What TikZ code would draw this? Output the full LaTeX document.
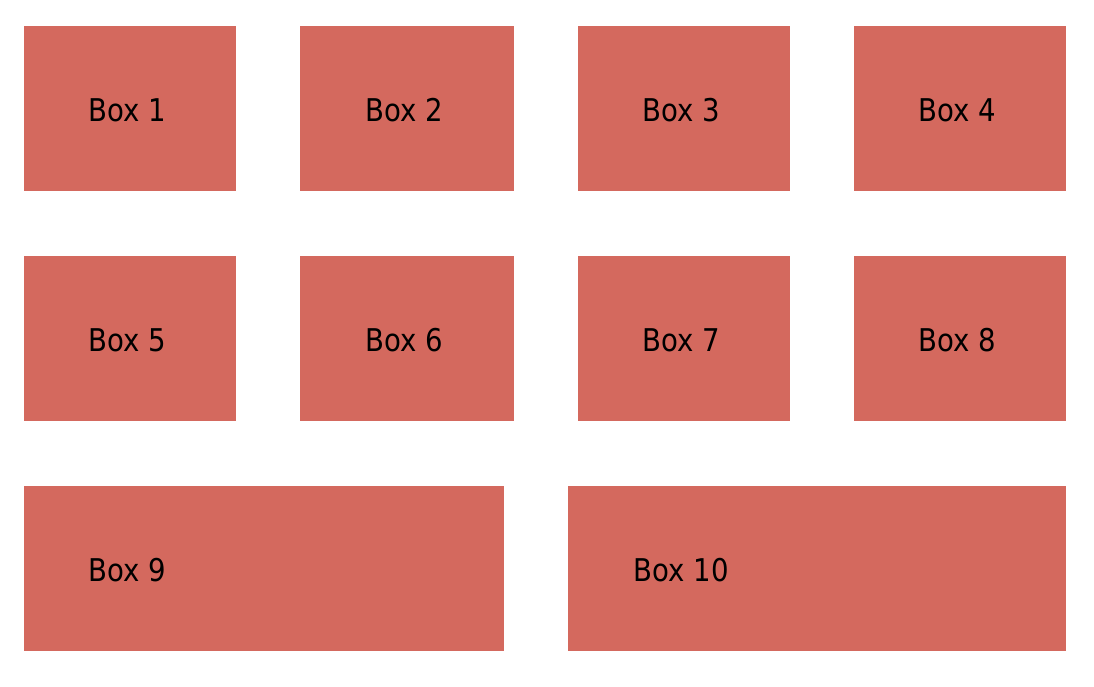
\documentclass[tikz,border=0pt]{standalone}
\usepackage{fontspec}
\setmainfont{DejaVu Sans}[FakeStretch=0.88]
\definecolor{boxred}{HTML}{D4695E}
\tikzset{
  cell/.style={fill=boxred, draw=none},
  lbl/.style={anchor=base, inner sep=0pt, font=\fontsize{23.5pt}{28pt}\selectfont, text=black}
}
\begin{document}
\begin{tikzpicture}[x=0.75pt,y=-0.75pt]
\useasboundingbox (0,0) rectangle (1094,686);
% row 1
\path[cell] (24,26) rectangle (236,191) coordinate (b1);
\path[cell] (300,26) rectangle (514,191) coordinate (b2);
\path[cell] (578,26) rectangle (790,191) coordinate (b3);
\path[cell] (854,26) rectangle (1066,191) coordinate (b4);
% row 2
\path[cell] (24,256) rectangle (236,421) coordinate (b5);
\path[cell] (300,256) rectangle (514,421) coordinate (b6);
\path[cell] (578,256) rectangle (790,421) coordinate (b7);
\path[cell] (854,256) rectangle (1066,421) coordinate (b8);
% row 3
\path[cell] (24,486) rectangle (504,651) coordinate (b9);
\path[cell] (568,486) rectangle (1066,651) coordinate (b10);
% labels
\node[lbl] (t1) at (127,121) {Box 1};
\node[lbl] (t2) at (404,121) {Box 2};
\node[lbl] (t3) at (681,121) {Box 3};
\node[lbl] (t4) at (957,121) {Box 4};
\node[lbl] (t5) at (127,351) {Box 5};
\node[lbl] (t6) at (404,351) {Box 6};
\node[lbl] (t7) at (681,351) {Box 7};
\node[lbl] (t8) at (957,351) {Box 8};
\node[lbl] (t9) at (127,581) {Box 9};
\node[lbl] (t10) at (681,581) {Box 10};
\end{tikzpicture}
\end{document}
